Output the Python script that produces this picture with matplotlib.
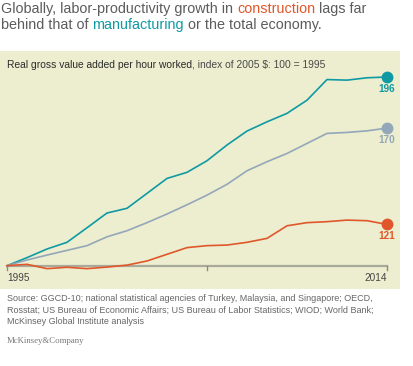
import numpy as np
import matplotlib.pyplot as plt
from matplotlib.patches import Rectangle

plt.rcParams['font.family'] = ['Liberation Sans', 'DejaVu Sans']

years = list(range(1995, 2015))
manufacturing = [100, 104.1, 108.5, 111.9, 119.3, 126.8, 129.2, 136.8, 144.4, 147.5,
                 153.4, 161.4, 168.5, 173.2, 177.5, 184.2, 194.7, 194.4, 195.6, 196]
total_economy = [100, 102.9, 105.4, 107.8, 110.2, 114.7, 117.8, 121.9, 126.3, 131.0,
                 135.9, 141.4, 148.3, 152.9, 157.1, 162.2, 167.3, 167.8, 168.6, 170]
construction = [100, 100.7, 98.5, 99.2, 98.5, 99.3, 100.3, 102.4, 105.8, 109.2,
                110.2, 110.5, 111.9, 113.9, 120.3, 121.9, 122.4, 123.2, 122.9, 121]
end_labels = ["196", "170", "121"]

TEAL = "#0f9aa3"
GRAY = "#93a7b8"
ORANGE = "#e0572b"
PANEL = "#eceecf"
TXT = "#5c5c5c"

W, H = 413, 366
fig = plt.figure(figsize=(W / 100, H / 100), dpi=100)
fig.patch.set_facecolor("white")

# beige panel behind the chart
fig.patches.append(Rectangle((0, 1 - 289 / H), 400 / W, (289 - 51) / H,
                             transform=fig.transFigure, facecolor=PANEL,
                             edgecolor="none", zorder=-1))

ax = fig.add_axes([7 / W, 1 - 265.7 / H, 380 / W, (265.7 - 77) / H], zorder=2)
ax.set_facecolor("none")
ax.set_xlim(1995, 2014)
ax.set_ylim(100, 196)
for s in ax.spines.values():
    s.set_visible(False)
ax.set_xticks([])
ax.set_yticks([])

ax.axhline(100, color="#aaaa9c", lw=1.6, zorder=1, clip_on=False)
for t in [1995, 2005, 2014]:
    ax.plot([t, t], [100, 97.6], color="#8a8a80", lw=1, clip_on=False, zorder=1)

series = [(manufacturing, TEAL), (total_economy, GRAY), (construction, ORANGE)]
for (vals, col), lab in zip(series, end_labels):
    ax.plot(years, vals, color=col, lw=1.2, clip_on=False, zorder=3)
    ax.plot(years[-1], vals[-1], "o", color=col, ms=7.5, clip_on=False, zorder=4)
    ax.annotate(lab, (years[-1], vals[-1]), xytext=(0, -5), textcoords="offset points",
                ha="center", va="top", color=col, fontsize=7.2, fontweight="bold")

ax.text(1995, 96.3, "1995", ha="left", va="top", fontsize=7.2, color="#444444")
ax.text(2014, 96.3, "2014", ha="right", va="top", fontsize=7.2, color="#444444")

r = fig.canvas.get_renderer()


def text_width(s, size):
    # measure with a guard character so trailing spaces count
    t = fig.text(0, 0, s + "|", fontsize=size)
    g = fig.text(0, 0, "|", fontsize=size)
    w = t.get_window_extent(renderer=r).width - g.get_window_extent(renderer=r).width
    t.remove()
    g.remove()
    return w


def colored_line(parts, x, y, size):
    done = ""
    for txt, col in parts:
        off = text_width(done, size) if done else 0
        fig.text((x + off) / W, 1 - y / H, txt, color=col, fontsize=size,
                 va="baseline", ha="left")
        done += txt


colored_line([("Globally, labor-productivity growth in ", TXT), ("construction", ORANGE),
              (" lags far", TXT)], 1, 13, 10.4)
colored_line([("behind that of ", TXT), ("manufacturing", TEAL),
              (" or the total economy.", TXT)], 1, 29, 10.4)

colored_line([("Real gross value added per hour worked", "#2b2b2b"),
              (", index of 2005 $: 100 = 1995", "#4a4a4a")], 7, 67.5, 7.4)

src = ("Source: GGCD-10; national statistical agencies of Turkey, Malaysia, and Singapore; OECD,\n"
       "Rosstat; US Bureau of Economic Affairs; US Bureau of Labor Statistics; WIOD; World Bank;\n"
       "McKinsey Global Institute analysis")
fig.text(7 / W, 1 - 294 / H, src, fontsize=6.45, color="#666666", va="top", ha="left",
         linespacing=1.35)
fig.text(7 / W, 1 - 341 / H, "McKinsey&Company", fontsize=6.3, color="#777777",
         family="Liberation Serif", va="center", ha="left")

fig.savefig("out.png", dpi=100)
